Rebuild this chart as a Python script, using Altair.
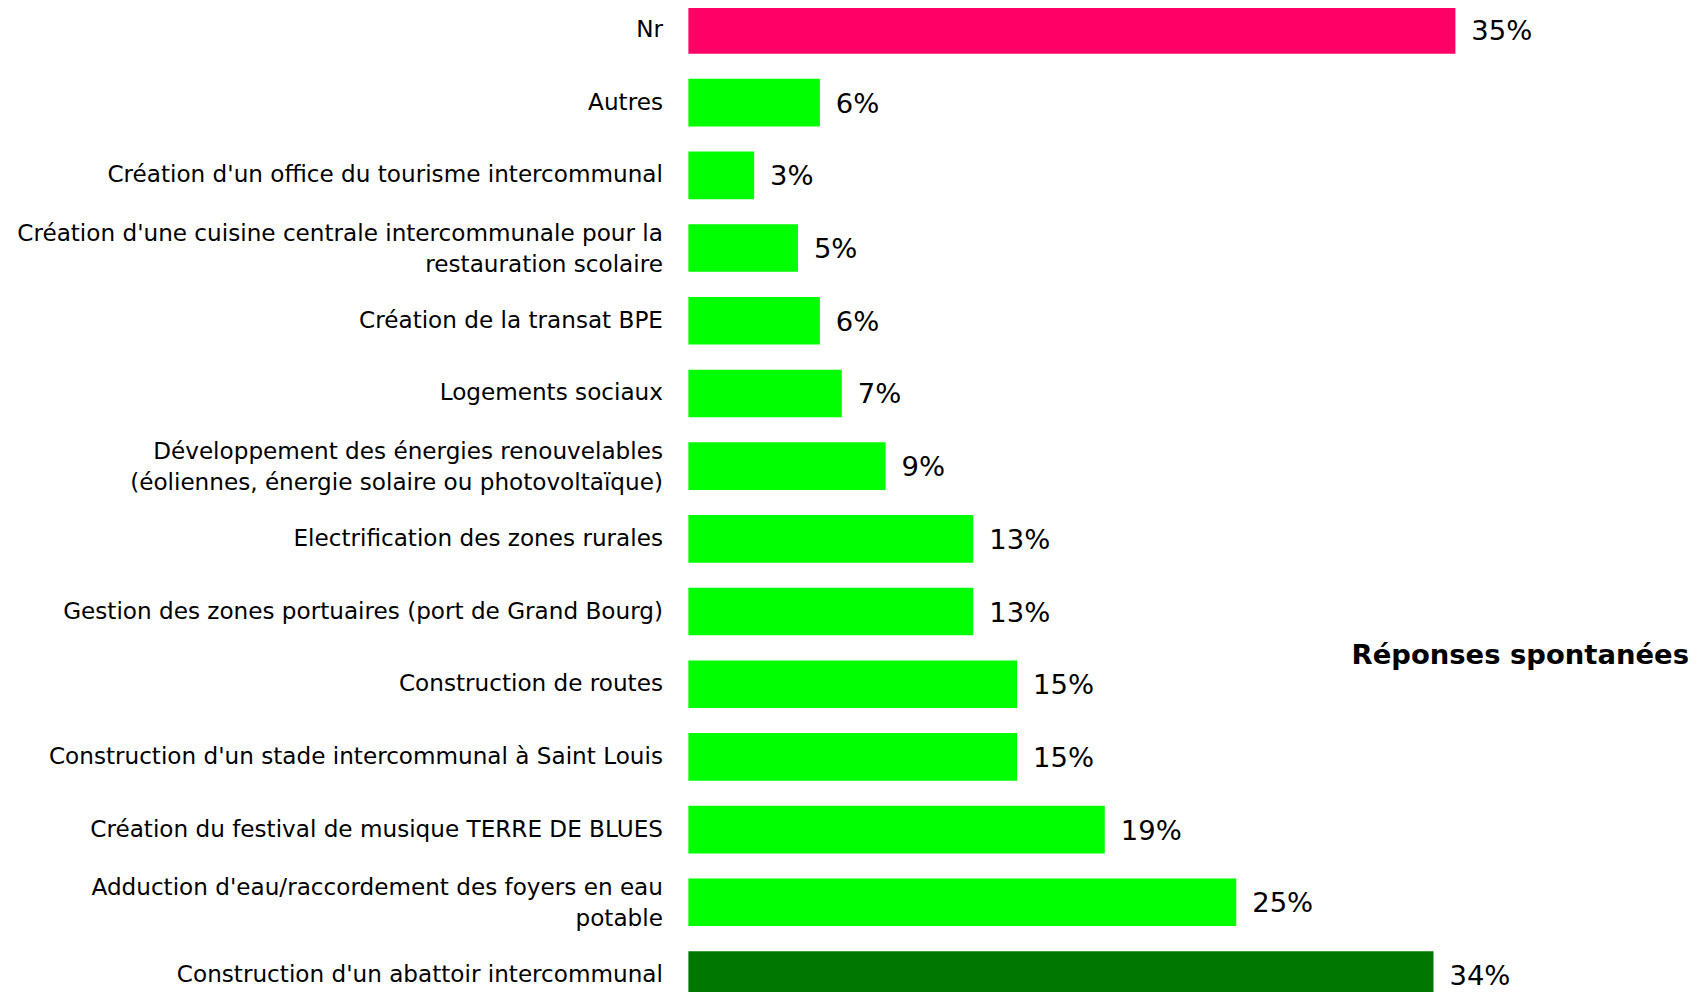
import altair as alt
import pandas as pd

categories = [
    "Nr",
    "Autres",
    "Création d'un office du tourisme intercommunal",
    "Création d'une cuisine centrale intercommunale pour la|restauration scolaire",
    "Création de la transat BPE",
    "Logements sociaux",
    "Développement des énergies renouvelables|(éoliennes, énergie solaire ou photovoltaïque)",
    "Electrification des zones rurales",
    "Gestion des zones portuaires (port de Grand Bourg)",
    "Construction de routes",
    "Construction d'un stade intercommunal à Saint Louis",
    "Création du festival de musique TERRE DE BLUES",
    "Adduction d'eau/raccordement des foyers en eau|potable",
    "Construction d'un abattoir intercommunal",
]
values = [35, 6, 3, 5, 6, 7, 9, 13, 13, 15, 15, 19, 25, 34]
groups = ["nr"] + ["other"] * 12 + ["top"]
group_colors = {"nr": "#FF0066", "other": "#00FF00", "top": "#007800"}
note = "Réponses spontanées"

df = pd.DataFrame({"cat": categories, "val": values, "grp": groups})
df["lab"] = df["val"].astype(str) + "%"

FONT = "DejaVu Sans"

y = alt.Y(
    "cat:N",
    sort=categories,
    scale=alt.Scale(paddingInner=0.345, paddingOuter=0),
    axis=alt.Axis(
        title=None, ticks=False, domain=False, grid=False,
        labelFont=FONT, labelFontSize=23.2, labelColor="#000000",
        labelPadding=26, labelLimit=0, labelLineHeight=31,
        labelExpr="split(datum.label, '|')",
        labelOffset={"condition": {"test": "indexof(datum.value, '|') >= 0", "value": -14}, "value": 0},
    ),
)
x = alt.X("val:Q", scale=alt.Scale(domain=[0, 45.75]), axis=None)

bars = alt.Chart(df).mark_bar().encode(
    x=x, y=y,
    color=alt.Color("grp:N", scale=alt.Scale(domain=list(group_colors.keys()),
                                              range=list(group_colors.values())), legend=None),
)
texts = alt.Chart(df).mark_text(align="left", baseline="middle", dx=16, dy=2,
                                font=FONT, fontSize=27.5, color="#000000").encode(
    x=x, y=y, text="lab:N")

note_layer = alt.Chart(pd.DataFrame({"t": [note]})).mark_text(
    align="right", baseline="middle", font="DejaVu Sans", fontWeight="bold",
    fontSize=27.5, color="#000000").encode(
    x=alt.value(1003), y=alt.value(651), text="t:N")

chart = alt.layer(bars, texts, note_layer).properties(
    width=1005, height=995,
    autosize=alt.AutoSizeParams(type="none"),
    padding={"left": 682, "top": -3, "right": 0, "bottom": -8},
).configure_view(stroke=None)

chart.save("out.html", embed_options={"renderer": "svg", "actions": False})
